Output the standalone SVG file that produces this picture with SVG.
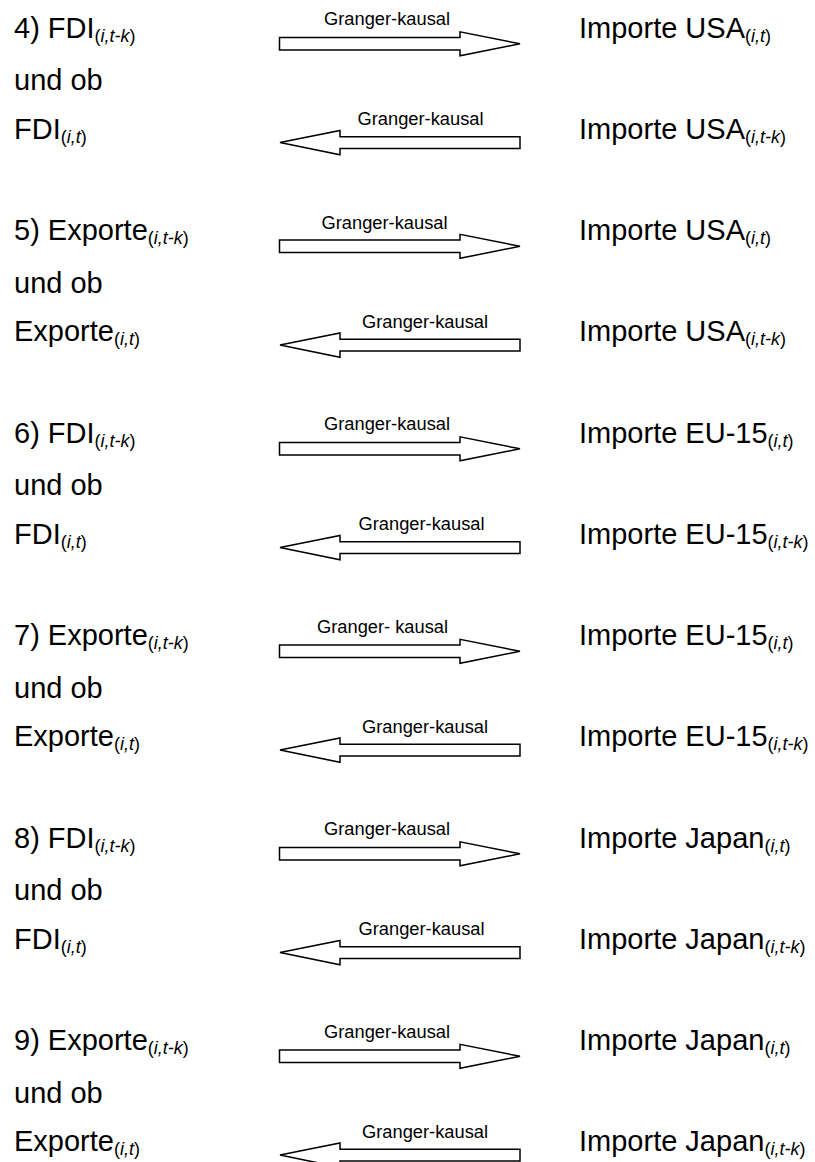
<svg xmlns="http://www.w3.org/2000/svg" xmlns:xlink="http://www.w3.org/1999/xlink" width="815" height="1162" viewBox="0 0 815 1162">
  <style>
    text { font-family: "Liberation Sans", Arial, sans-serif; fill: #000; }
    .main { font-size: 29px; }
    .lbl { font-size: 18.3px; }
    .sub { font-size: 18px; }
    .it { font-style: italic; }
    .arrow { fill: #fff; stroke: #000; stroke-width: 1.5; stroke-linejoin: miter; }
  </style>
  <defs>
    <!-- block arrow pointing right, origin at left end of the shaft (centre line) -->
    <path id="arrowR" class="arrow" d="M0,-6.2 H180.5 V-12 L240.5,0 L180.5,12 V6.2 H0 Z"/>
    <!-- block arrow pointing left, origin at the tip -->
    <path id="arrowL" class="arrow" d="M0,0 L60,-12.2 V-5.9 H240 V5.9 H60 V12.2 Z"/>
  </defs>

  <rect x="0" y="0" width="815" height="1162" fill="#fff"/>

  <!-- 4) FDI / Importe USA -->
  <g id="block-4">
    <g id="n4-left">
      <text class="main" x="14" y="37.5">4) FDI<tspan class="sub" dy="4">(<tspan class="it">i,t-k</tspan>)</tspan></text>
      <text class="main" x="14" y="90">und ob</text>
      <text class="main" x="14" y="138.5">FDI<tspan class="sub" dy="4">(<tspan class="it">i,t</tspan>)</tspan></text>
    </g>
    <g id="n4-right-top">
      <text class="main" x="579" y="37.5">Importe USA<tspan class="sub" dy="4">(<tspan class="it">i,t</tspan>)</tspan></text>
    </g>
    <g id="n4-right-bottom">
      <text class="main" x="579" y="138.5">Importe USA<tspan class="sub" dy="4">(<tspan class="it">i,t-k</tspan>)</tspan></text>
    </g>
  </g>

  <!-- 5) Exporte / Importe USA -->
  <g id="block-5">
    <g id="n5-left">
      <text class="main" x="14" y="240">5) Exporte<tspan class="sub" dy="4">(<tspan class="it">i,t-k</tspan>)</tspan></text>
      <text class="main" x="14" y="292.5">und ob</text>
      <text class="main" x="14" y="341">Exporte<tspan class="sub" dy="4">(<tspan class="it">i,t</tspan>)</tspan></text>
    </g>
    <g id="n5-right-top">
      <text class="main" x="579" y="240">Importe USA<tspan class="sub" dy="4">(<tspan class="it">i,t</tspan>)</tspan></text>
    </g>
    <g id="n5-right-bottom">
      <text class="main" x="579" y="341">Importe USA<tspan class="sub" dy="4">(<tspan class="it">i,t-k</tspan>)</tspan></text>
    </g>
  </g>

  <!-- 6) FDI / Importe EU-15 -->
  <g id="block-6">
    <g id="n6-left">
      <text class="main" x="14" y="442.5">6) FDI<tspan class="sub" dy="4">(<tspan class="it">i,t-k</tspan>)</tspan></text>
      <text class="main" x="14" y="495">und ob</text>
      <text class="main" x="14" y="543.5">FDI<tspan class="sub" dy="4">(<tspan class="it">i,t</tspan>)</tspan></text>
    </g>
    <g id="n6-right-top">
      <text class="main" x="579" y="442.5">Importe EU-15<tspan class="sub" dy="4">(<tspan class="it">i,t</tspan>)</tspan></text>
    </g>
    <g id="n6-right-bottom">
      <text class="main" x="579" y="543.5">Importe EU-15<tspan class="sub" dy="4">(<tspan class="it">i,t-k</tspan>)</tspan></text>
    </g>
  </g>

  <!-- 7) Exporte / Importe EU-15 -->
  <g id="block-7">
    <g id="n7-left">
      <text class="main" x="14" y="645">7) Exporte<tspan class="sub" dy="4">(<tspan class="it">i,t-k</tspan>)</tspan></text>
      <text class="main" x="14" y="697.5">und ob</text>
      <text class="main" x="14" y="746">Exporte<tspan class="sub" dy="4">(<tspan class="it">i,t</tspan>)</tspan></text>
    </g>
    <g id="n7-right-top">
      <text class="main" x="579" y="645">Importe EU-15<tspan class="sub" dy="4">(<tspan class="it">i,t</tspan>)</tspan></text>
    </g>
    <g id="n7-right-bottom">
      <text class="main" x="579" y="746">Importe EU-15<tspan class="sub" dy="4">(<tspan class="it">i,t-k</tspan>)</tspan></text>
    </g>
  </g>

  <!-- 8) FDI / Importe Japan -->
  <g id="block-8">
    <g id="n8-left">
      <text class="main" x="14" y="847.5">8) FDI<tspan class="sub" dy="4">(<tspan class="it">i,t-k</tspan>)</tspan></text>
      <text class="main" x="14" y="900">und ob</text>
      <text class="main" x="14" y="948.5">FDI<tspan class="sub" dy="4">(<tspan class="it">i,t</tspan>)</tspan></text>
    </g>
    <g id="n8-right-top">
      <text class="main" x="579" y="847.5">Importe Japan<tspan class="sub" dy="4">(<tspan class="it">i,t</tspan>)</tspan></text>
    </g>
    <g id="n8-right-bottom">
      <text class="main" x="579" y="948.5">Importe Japan<tspan class="sub" dy="4">(<tspan class="it">i,t-k</tspan>)</tspan></text>
    </g>
  </g>

  <!-- 9) Exporte / Importe Japan -->
  <g id="block-9">
    <g id="n9-left">
      <text class="main" x="14" y="1050">9) Exporte<tspan class="sub" dy="4">(<tspan class="it">i,t-k</tspan>)</tspan></text>
      <text class="main" x="14" y="1102.5">und ob</text>
      <text class="main" x="14" y="1151">Exporte<tspan class="sub" dy="4">(<tspan class="it">i,t</tspan>)</tspan></text>
    </g>
    <g id="n9-right-top">
      <text class="main" x="579" y="1050">Importe Japan<tspan class="sub" dy="4">(<tspan class="it">i,t</tspan>)</tspan></text>
    </g>
    <g id="n9-right-bottom">
      <text class="main" x="579" y="1151">Importe Japan<tspan class="sub" dy="4">(<tspan class="it">i,t-k</tspan>)</tspan></text>
    </g>
  </g>

  <!-- Granger-causality arrows with their labels -->
  <g id="connectors">
    <use href="#arrowR" xlink:href="#arrowR" x="279.5" y="43.8"/>
    <text class="lbl" x="324" y="25">Granger-kausal</text>
    <use href="#arrowL" xlink:href="#arrowL" x="280" y="142.6"/>
    <text class="lbl" x="357.5" y="125">Granger-kausal</text>

    <use href="#arrowR" xlink:href="#arrowR" x="279.5" y="246.3"/>
    <text class="lbl" x="321.5" y="228.5">Granger-kausal</text>
    <use href="#arrowL" xlink:href="#arrowL" x="280" y="345.1"/>
    <text class="lbl" x="362" y="327.5">Granger-kausal</text>

    <use href="#arrowR" xlink:href="#arrowR" x="279.5" y="448.8"/>
    <text class="lbl" x="324" y="430">Granger-kausal</text>
    <use href="#arrowL" xlink:href="#arrowL" x="280" y="547.6"/>
    <text class="lbl" x="358.5" y="530">Granger-kausal</text>

    <use href="#arrowR" xlink:href="#arrowR" x="279.5" y="651.3"/>
    <text class="lbl" x="317" y="632.5">Granger- kausal</text>
    <use href="#arrowL" xlink:href="#arrowL" x="280" y="750.1"/>
    <text class="lbl" x="362" y="732.5">Granger-kausal</text>

    <use href="#arrowR" xlink:href="#arrowR" x="279.5" y="853.8"/>
    <text class="lbl" x="324" y="835">Granger-kausal</text>
    <use href="#arrowL" xlink:href="#arrowL" x="280" y="952.6"/>
    <text class="lbl" x="358.5" y="935">Granger-kausal</text>

    <use href="#arrowR" xlink:href="#arrowR" x="279.5" y="1056.3"/>
    <text class="lbl" x="324" y="1037.5">Granger-kausal</text>
    <use href="#arrowL" xlink:href="#arrowL" x="280" y="1155.1"/>
    <text class="lbl" x="362" y="1137.5">Granger-kausal</text>
  </g>
</svg>
